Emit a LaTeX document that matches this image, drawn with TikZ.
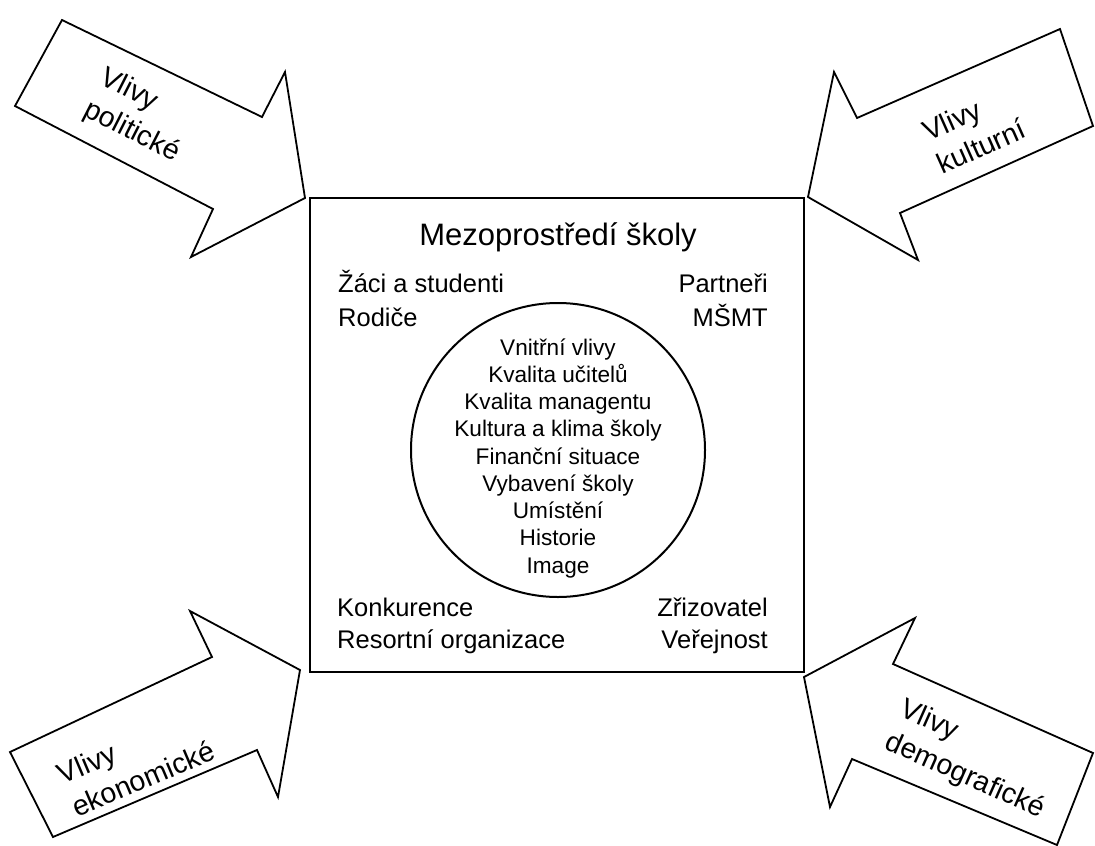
\documentclass[tikz,border=0pt]{standalone}
\usepackage{fontspec}
\setmainfont{Liberation Sans}
\begin{document}
\begin{tikzpicture}[x=1pt,y=-1pt,
  box/.style={line width=2.4pt},
  arr/.style={line width=1.8pt, line join=miter},
  lbl/.style={font=\fontsize{28.5}{36}\selectfont, align=left, inner sep=0pt},
  outer/.style={font=\fontsize{25.5}{30}\selectfont, inner sep=0pt},
  innertxt/.style={font=\fontsize{22.6}{27}\selectfont, inner sep=0pt, anchor=base},
  title/.style={font=\fontsize{31}{37}\selectfont, inner sep=0pt, anchor=base},
]
\useasboundingbox (0,0) rectangle (1095,846);
% square and circle
\draw[box] (310,198) rectangle (804,672);
\draw[line width=2pt] (558,450) circle[radius=147pt];
% arrows
\draw[arr] (62,20) -- (262,117) -- (285,72) -- (305,198) -- (191,257) -- (213,209) -- (15,106) -- cycle;
\draw[arr] (1060,29) -- (1093,126) -- (900,213) -- (918,260) -- (808,197) -- (834,72) -- (857,118) -- cycle;
\draw[arr] (10,752) -- (212,657) -- (190,611) -- (300,670) -- (278,797) -- (257,750) -- (53,837) -- cycle;
\draw[arr] (804,677) -- (915,618) -- (893,664) -- (1093,753) -- (1057,845) -- (852,759) -- (830,807) -- cycle;
% arrow labels
\node[lbl, rotate=-27] (pol) at (140,116) {Vlivy\\politické};
\node[lbl, rotate=24] (kul) at (974,130) {Vlivy\\kulturní};
\node[lbl, rotate=23] (eko) at (136,762) {Vlivy\\ekonomické};
\node[lbl, rotate=-24] (dem) at (972,760) {Vlivy\\demografické};
% title
\node[title] (mezo) at (558,245) {Mezoprostředí školy};
% corner texts
\node[outer, anchor=base west] (zaci) at (338,292) {Žáci a studenti};
\node[outer, anchor=base west] (rod) at (338,326) {Rodiče};
\node[outer, anchor=base east] (par) at (768,292) {Partneři};
\node[outer, anchor=base east] (msmt) at (768,326) {MŠMT};
\node[outer, anchor=base west] (konk) at (337,616) {Konkurence};
\node[outer, anchor=base west] (res) at (337,648) {Resortní organizace};
\node[outer, anchor=base east] (zriz) at (768,616) {Zřizovatel};
\node[outer, anchor=base east] (ver) at (768,648) {Veřejnost};
% inner texts
\foreach \t [count=\i from 0] in {Vnitřní vlivy, Kvalita učitelů, Kvalita managentu, Kultura a klima školy, Finanční situace, Vybavení školy, Umístění, Historie, Image}
  \node[innertxt] (in\i) at (558,355+27.25*\i) {\t};
\end{tikzpicture}
\end{document}
